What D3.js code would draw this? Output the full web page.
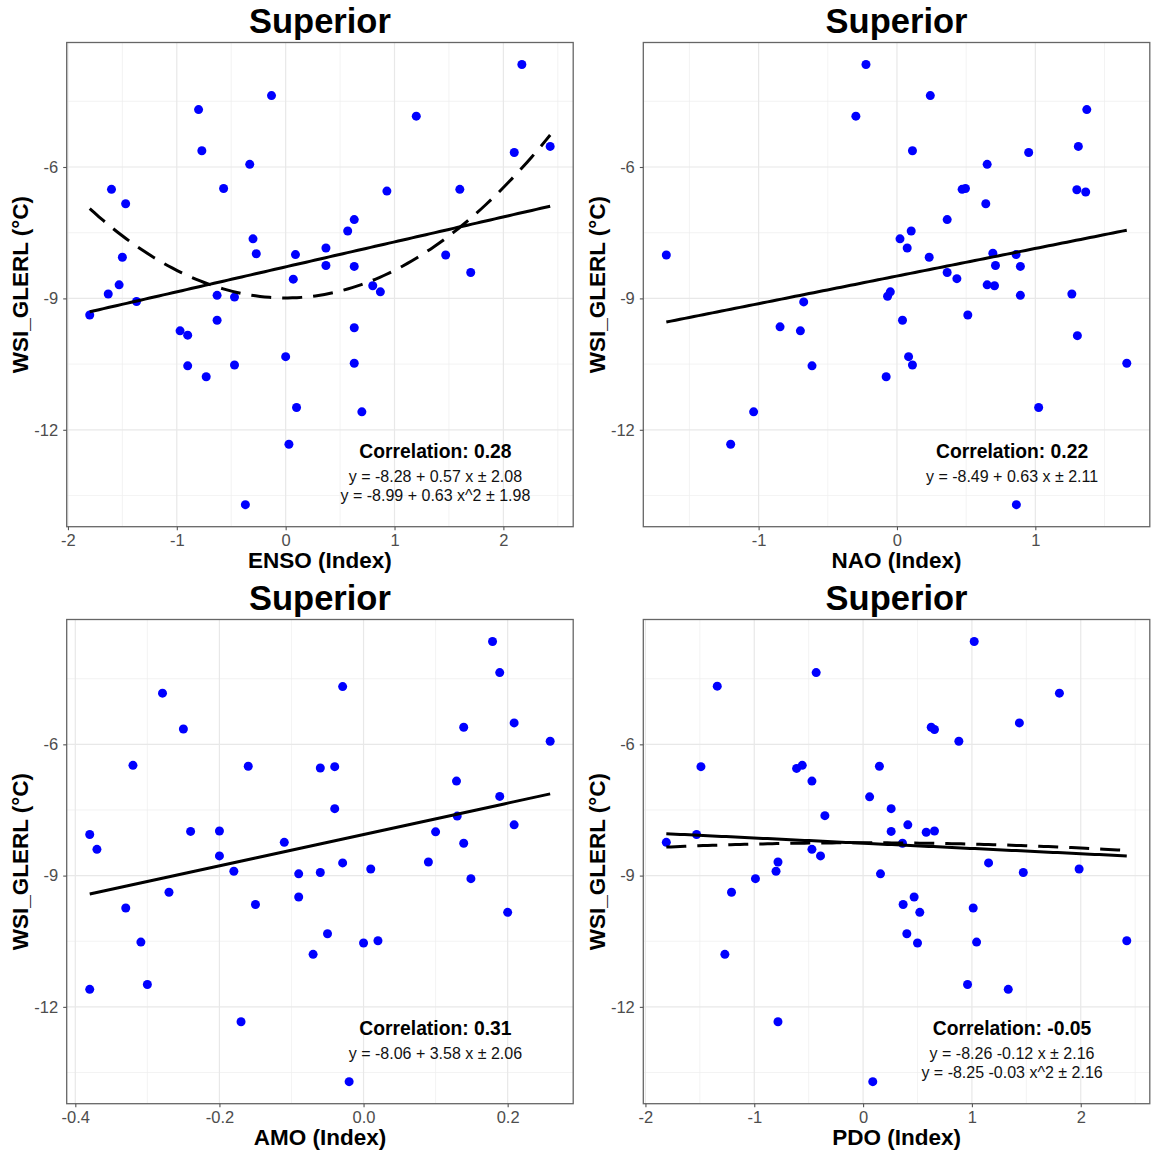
<!DOCTYPE html>
<html><head><meta charset="utf-8">
<script src="https://cdn.jsdelivr.net/npm/d3@7"></script>
<style>body{margin:0;background:#fff}</style>
</head><body><svg id="c" width="1151" height="1155"></svg>
<script>
// ---------- data ----------
const ensoX=[-1.80,-1.63,-1.60,-1.53,-1.50,-1.47,-1.37,-0.97,-0.90,-0.90,-0.80,-0.77,-0.73,-0.63,-0.63,-0.57,-0.47,-0.47,-0.37,-0.33,-0.30,-0.27,-0.13,0.00,0.03,0.07,0.09,0.10,0.37,0.37,0.57,0.63,0.63,0.63,0.63,0.70,0.80,0.87,0.93,1.20,1.47,1.60,1.70,2.10,2.17,2.43];
const ensoY=[-9.38,-8.90,-6.51,-8.69,-8.06,-6.84,-9.07,-9.74,-9.84,-10.54,-4.69,-5.63,-10.79,-8.93,-9.50,-6.49,-8.97,-10.52,-13.71,-5.94,-7.64,-7.98,-4.37,-10.33,-12.33,-8.56,-8.00,-11.49,-7.85,-8.25,-7.46,-7.20,-8.27,-9.67,-10.48,-11.59,-8.71,-8.85,-6.55,-4.84,-8.01,-6.51,-8.41,-5.67,-3.66,-5.53];

const naoX=[-1.667,-1.202,-1.036,-0.845,-0.698,-0.674,-0.614,-0.297,-0.224,-0.078,-0.068,-0.048,0.022,0.040,0.074,0.084,0.103,0.112,0.112,0.233,0.241,0.363,0.363,0.433,0.471,0.495,0.512,0.642,0.652,0.652,0.693,0.705,0.712,0.861,0.863,0.892,0.892,0.952,1.024,1.264,1.300,1.304,1.311,1.364,1.372,1.661];
const naoY=[-8.01,-12.33,-11.59,-9.65,-9.74,-9.08,-10.54,-4.84,-3.66,-10.79,-8.95,-8.85,-7.64,-9.50,-7.85,-10.33,-7.46,-5.63,-10.52,-8.06,-4.37,-7.20,-8.41,-8.55,-6.51,-6.49,-9.38,-6.84,-5.94,-8.69,-7.97,-8.71,-8.25,-8.00,-13.71,-8.27,-8.93,-5.67,-11.49,-8.90,-6.52,-9.85,-5.53,-6.57,-4.69,-10.48];

const amoX=[-0.380,-0.380,-0.370,-0.330,-0.320,-0.309,-0.300,-0.279,-0.270,-0.250,-0.240,-0.200,-0.200,-0.180,-0.170,-0.160,-0.150,-0.110,-0.090,-0.090,-0.070,-0.060,-0.060,-0.050,-0.040,-0.040,-0.029,-0.029,-0.020,0.000,0.010,0.020,0.090,0.100,0.129,0.130,0.139,0.139,0.149,0.179,0.189,0.189,0.200,0.209,0.209,0.259];
const amoY=[-8.06,-11.60,-8.40,-9.74,-6.48,-10.52,-11.49,-4.83,-9.38,-5.65,-7.99,-7.98,-8.55,-8.90,-12.34,-6.50,-9.66,-8.24,-8.96,-9.49,-10.80,-6.54,-8.93,-10.33,-6.51,-7.47,-4.68,-8.71,-13.71,-10.54,-8.85,-10.49,-8.69,-8.00,-6.84,-7.64,-5.61,-8.26,-9.07,-3.65,-4.36,-7.19,-9.84,-5.51,-7.84,-5.93];

const pdoX=[-1.808,-1.530,-1.490,-1.340,-1.270,-1.209,-0.989,-0.800,-0.782,-0.782,-0.611,-0.559,-0.470,-0.470,-0.431,-0.391,-0.351,0.060,0.089,0.150,0.160,0.258,0.258,0.362,0.368,0.402,0.411,0.469,0.500,0.521,0.580,0.626,0.656,0.656,0.880,0.960,1.012,1.021,1.043,1.153,1.334,1.436,1.472,1.804,1.985,2.423];
const pdoY=[-8.24,-8.06,-6.51,-4.67,-10.80,-9.38,-9.07,-8.90,-8.69,-12.34,-6.55,-6.48,-6.84,-8.40,-4.36,-8.55,-7.63,-7.20,-13.71,-6.50,-8.96,-7.47,-7.99,-8.26,-9.66,-10.33,-7.84,-9.49,-10.54,-9.84,-8.01,-5.61,-5.66,-7.98,-5.93,-11.49,-9.74,-3.65,-10.52,-8.71,-11.60,-5.51,-8.93,-4.83,-8.85,-10.49];

// fitted coefficients shown on the chart
const ensoLin=[-8.28,0.57], ensoQuad=[-8.99,0.63];
const naoLin=[-8.49,0.63];
const amoLin=[-8.06,3.58];
const pdoLin=[-8.26,-0.12], pdoQuad=[-8.25,-0.03];

// ticks & labels
const yTicks=[-12,-9,-6], yMinor=[-13.5,-10.5,-7.5,-4.5];
const ensoTicks=[-2,-1,0,1,2], ensoMinor=[-1.5,-0.5,0.5,1.5,2.5];
const naoTicks=[-1,0,1], naoMinor=[-1.5,-0.5,0.5,1.5];
const amoTicks=[-0.4,-0.2,0.0,0.2], amoMinor=[-0.3,-0.1,0.1];
const pdoTicks=[-2,-1,0,1,2], pdoMinor=[-1.5,-0.5,0.5,1.5,2.5];
const panelTitle="Superior";
const yTitle="WSI_GLERL (°C)";
const xTitles=["ENSO (Index)","NAO (Index)","AMO (Index)","PDO (Index)"];
const corrLabels=["Correlation: 0.28","Correlation: 0.22","Correlation: 0.31","Correlation: -0.05"];
const eqLabels=[
  ["y = -8.28 + 0.57 x ± 2.08","y = -8.99 + 0.63 x^2 ± 1.98"],
  ["y = -8.49 + 0.63 x ± 2.11"],
  ["y = -8.06 + 3.58 x ± 2.06"],
  ["y = -8.26 -0.12 x ± 2.16","y = -8.25 -0.03 x^2 ± 2.16"]
];

// ---------- drawing ----------
const hy=f=>d=>f(d).replace("\u2212","-");
const panels=[
  {x:ensoX,y:ensoY,ticks:ensoTicks,minor:ensoMinor,fmt:hy(d3.format("d")),lin:ensoLin,quad:ensoQuad},
  {x:naoX,y:naoY,ticks:naoTicks,minor:naoMinor,fmt:hy(d3.format("d")),lin:naoLin,quad:null},
  {x:amoX,y:amoY,ticks:amoTicks,minor:amoMinor,fmt:hy(d3.format(".1f")),lin:amoLin,quad:null},
  {x:pdoX,y:pdoY,ticks:pdoTicks,minor:pdoMinor,fmt:hy(d3.format("d")),lin:pdoLin,quad:pdoQuad}
];
const svg=d3.select("#c");
const FONT="'Liberation Sans', Arial, Helvetica, sans-serif";
const pad=e=>{const r=e[1]-e[0];return [e[0]-0.05*r,e[1]+0.05*r];};

panels.forEach((p,i)=>{
  const col=i%2,row=Math.floor(i/2);
  const L=66.7+col*576.6, T=42.5+row*577, W=506.5, H=484.2;
  const xs=d3.scaleLinear().domain(pad(d3.extent(p.x))).range([L,L+W]);
  const ys=d3.scaleLinear().domain(pad(d3.extent(p.y))).range([T+H,T]);
  const g=svg.append("g");
  g.append("rect").attr("x",L).attr("y",T).attr("width",W).attr("height",H).attr("fill","#fff");
  // minor grid
  g.selectAll(".mx").data(p.minor.filter(v=>v>=xs.domain()[0]&&v<=xs.domain()[1])).join("line")
    .attr("x1",d=>xs(d)).attr("x2",d=>xs(d)).attr("y1",T).attr("y2",T+H)
    .attr("stroke","#EEEEEE").attr("stroke-width",0.7);
  g.selectAll(".my").data(yMinor).join("line")
    .attr("y1",d=>ys(d)).attr("y2",d=>ys(d)).attr("x1",L).attr("x2",L+W)
    .attr("stroke","#EEEEEE").attr("stroke-width",0.7);
  // major grid
  g.selectAll(".Mx").data(p.ticks).join("line")
    .attr("x1",d=>xs(d)).attr("x2",d=>xs(d)).attr("y1",T).attr("y2",T+H)
    .attr("stroke","#E8E8E8").attr("stroke-width",1.2);
  g.selectAll(".My").data(yTicks).join("line")
    .attr("y1",d=>ys(d)).attr("y2",d=>ys(d)).attr("x1",L).attr("x2",L+W)
    .attr("stroke","#E8E8E8").attr("stroke-width",1.2);
  // points
  g.selectAll("circle").data(p.x.map((v,k)=>[v,p.y[k]])).join("circle")
    .attr("cx",d=>xs(d[0])).attr("cy",d=>ys(d[1])).attr("r",4.5).attr("fill","#0000FF");
  // fit lines
  const ext=d3.extent(p.x);
  const xsamp=d3.range(0,101).map(k=>ext[0]+(ext[1]-ext[0])*k/100);
  const line=d3.line().x(d=>xs(d[0])).y(d=>ys(d[1]));
  g.append("path").attr("d",line(xsamp.map(v=>[v,p.lin[0]+p.lin[1]*v])))
    .attr("fill","none").attr("stroke","#000").attr("stroke-width",3);
  if(p.quad){
    g.append("path").attr("d",line(xsamp.map(v=>[v,p.quad[0]+p.quad[1]*v*v])))
      .attr("fill","none").attr("stroke","#000").attr("stroke-width",3).attr("stroke-dasharray","20,11");
  }
  // border
  g.append("rect").attr("x",L).attr("y",T).attr("width",W).attr("height",H)
    .attr("fill","none").attr("stroke","#666").attr("stroke-width",1.3);
  // axes
  const ax=g.append("g").attr("transform",`translate(0,${T+H})`)
    .call(d3.axisBottom(xs).tickValues(p.ticks).tickFormat(p.fmt).tickSize(3.5).tickPadding(4));
  const ay=g.append("g").attr("transform",`translate(${L},0)`)
    .call(d3.axisLeft(ys).tickValues(yTicks).tickFormat(hy(d3.format("d"))).tickSize(3.5).tickPadding(5));
  [ax,ay].forEach(a=>{
    a.select(".domain").remove();
    a.selectAll("line").attr("stroke","#555").attr("stroke-width",1.1);
    a.selectAll("text").attr("fill","#4D4D4D").style("font-family",FONT).style("font-size","16.5px");
  });
  // titles
  g.append("text").attr("x",L+W/2).attr("y",T-9.5).attr("text-anchor","middle")
    .style("font-family",FONT).style("font-size","34.5px").style("font-weight","bold").text(panelTitle);
  g.append("text").attr("x",L+W/2).attr("y",T+H+41).attr("text-anchor","middle")
    .style("font-family",FONT).style("font-size","22.5px").style("font-weight","bold").text(xTitles[i]);
  g.append("text").attr("transform",`translate(${L-38.5},${T+H/2}) rotate(-90)`).attr("text-anchor","middle")
    .style("font-family",FONT).style("font-size","22.5px").style("font-weight","bold").text(yTitle);
  // annotations
  const cx=L+0.728*W;
  g.append("text").attr("x",cx).attr("y",T+415.2).attr("text-anchor","middle")
    .style("font-family",FONT).style("font-size","19.3px").style("font-weight","bold").text(corrLabels[i]);
  eqLabels[i].forEach((t,k)=>{
    g.append("text").attr("x",cx).attr("y",T+439.8+k*18.6).attr("text-anchor","middle")
      .style("font-family",FONT).style("font-size","16px").attr("fill","#111").text(t);
  });
});
</script></body></html>
